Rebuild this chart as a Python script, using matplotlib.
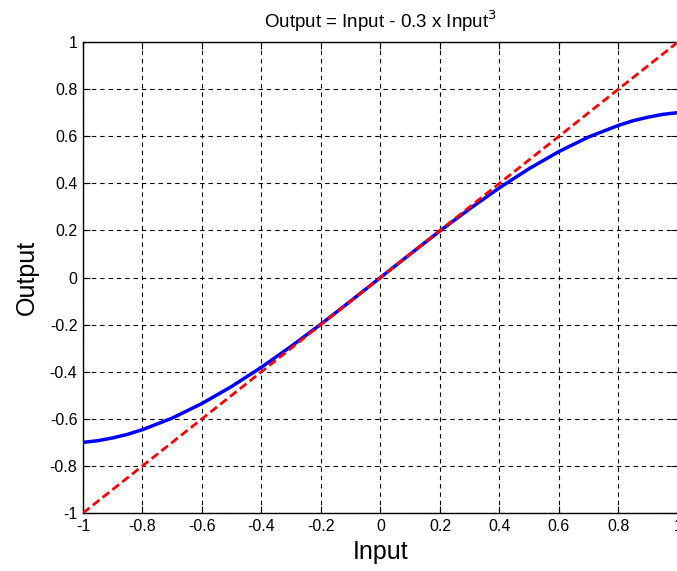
import matplotlib
matplotlib.use("Agg")
import matplotlib.pyplot as plt

# Values
input_vals = [-1.0, -0.95, -0.9, -0.85, -0.8, -0.7, -0.6, -0.5, -0.4, -0.3, -0.2, -0.1, 0.0,
              0.1, 0.2, 0.3, 0.4, 0.5, 0.6, 0.7, 0.8, 0.85, 0.9, 0.95, 1.0]
output_vals = [-0.70, -0.693, -0.681, -0.666, -0.646, -0.597, -0.535, -0.4625, -0.381, -0.292,
               -0.198, -0.0997, 0.0, 0.0997, 0.198, 0.292, 0.381, 0.4625, 0.535, 0.597, 0.646,
               0.666, 0.681, 0.693, 0.70]
linear_x = [-1.0, 1.0]
linear_y = [-1.0, 1.0]
ticks = [-1, -0.8, -0.6, -0.4, -0.2, 0, 0.2, 0.4, 0.6, 0.8, 1]
tick_labels = ["-1", "-0.8", "-0.6", "-0.4", "-0.2", "0", "0.2", "0.4", "0.6", "0.8", "1"]

plt.rcParams['font.family'] = ['Liberation Sans', 'DejaVu Sans']

fig = plt.figure(figsize=(6.77, 5.71), dpi=100)
ax = fig.add_axes([83/677, 1 - 513/571, 595/677, 471/571])

ax.plot(input_vals, output_vals, color="#0000ff", lw=2.5, zorder=3)
ax.plot(linear_x, linear_y, color="#ff0000", lw=2, ls=(0, (3, 1.5)), zorder=4)

ax.set_xlim(-1, 1)
ax.set_ylim(-1, 1)
ax.set_xticks(ticks)
ax.set_xticklabels(tick_labels)
ax.set_yticks(ticks)
ax.set_yticklabels(tick_labels)
ax.tick_params(direction="in", length=5, labelsize=11.5, top=True, right=True, pad=4)
ax.grid(True, color="black", ls=(0, (4, 3.5)), lw=0.8)
for s in ax.spines.values():
    s.set_linewidth(1)

ax.set_title("Output = Input - 0.3 x Input$^3$", fontsize=13.5, pad=10)
ax.set_xlabel("Input", fontsize=18, labelpad=5)
ax.set_ylabel("Output", fontsize=18, labelpad=8)

fig.savefig("out.png", dpi=100)
